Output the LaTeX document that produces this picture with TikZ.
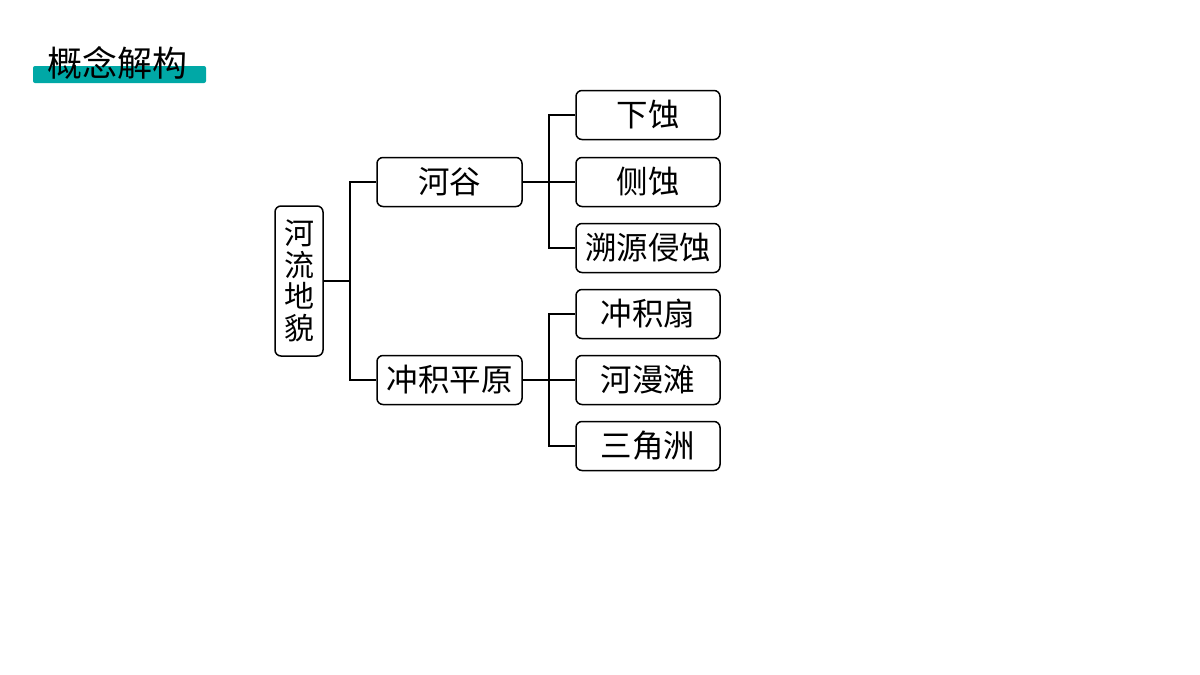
\documentclass[tikz,border=0pt]{standalone}
\usepackage{fontspec}
\newfontfamily\cjk{Noto Sans CJK SC}
\definecolor{teal1}{RGB}{0,168,166}
\begin{document}
\begin{tikzpicture}[x=1pt,y=-1pt,
  box/.style={draw,line width=1.5pt,rounded corners=6pt,inner sep=0pt,font=\cjk\fontsize{31.5}{33}\selectfont},
  leaf/.style={box,minimum width=144pt,minimum height=49pt},
  mid/.style={box,minimum width=145pt,minimum height=49pt},
  conn/.style={line width=1.5pt}]
\useasboundingbox[fill=white] (0,0) rectangle (1200,675);
\fill[teal1,rounded corners=2pt] (33,66) rectangle (206,83);
\node[font=\cjk\fontsize{35}{37}\selectfont,anchor=center,inner sep=0pt] (title) at (117,63) {概念解构};
\node[box,minimum width=48pt,minimum height=150pt,align=center,font=\cjk\fontsize{30}{31.5}\selectfont] (root) at (299,281) {河\\流\\地\\貌};
\node[mid] (hg) at (449.5,182) {河谷};
\node[mid] (cj) at (449.5,380) {冲积平原};
\node[leaf] (l1) at (648,115) {下蚀};
\node[leaf] (l2) at (648,182) {侧蚀};
\node[leaf] (l3) at (648,248) {溯源侵蚀};
\node[leaf] (l4) at (648,314) {冲积扇};
\node[leaf] (l5) at (648,380) {河漫滩};
\node[leaf] (l6) at (648,446) {三角洲};
\coordinate (j0) at (350,281);
\coordinate (j1) at (549,182);
\coordinate (j2) at (549,380);
\draw[conn] (root.east) -- (j0);
\draw[conn] (j0) |- (hg.west);
\draw[conn] (j0) |- (cj.west);
\draw[conn] (hg.east) -- (j1);
\draw[conn] (j1) |- (l1.west);
\draw[conn] (j1) -- (l2.west);
\draw[conn] (j1) |- (l3.west);
\draw[conn] (cj.east) -- (j2);
\draw[conn] (j2) |- (l4.west);
\draw[conn] (j2) -- (l5.west);
\draw[conn] (j2) |- (l6.west);
\end{tikzpicture}
\end{document}
